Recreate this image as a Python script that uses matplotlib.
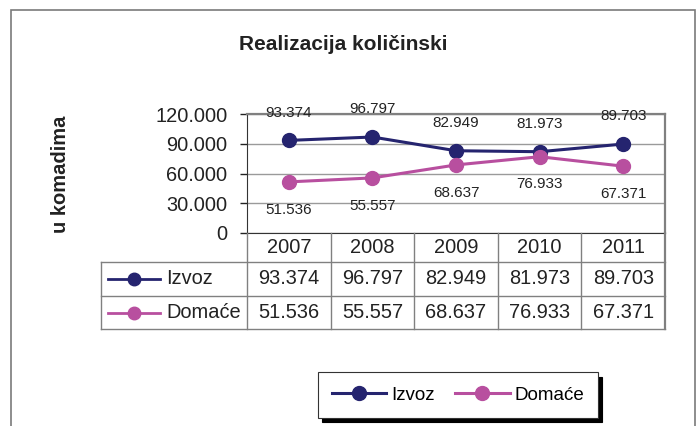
import matplotlib
matplotlib.use("Agg")
import matplotlib.pyplot as plt
from matplotlib.patches import Rectangle
from matplotlib.ticker import FuncFormatter

plt.rcParams['font.family'] = ['Liberation Sans', 'DejaVu Sans']

years = ["2007", "2008", "2009", "2010", "2011"]
izvoz = [93374, 96797, 82949, 81973, 89703]
domace = [51536, 55557, 68637, 76933, 67371]
series_names = ["Izvoz", "Domaće"]
colors = ["#25246f", "#b84f9f"]
yticks = [0, 30000, 60000, 90000, 120000]


def fmt(v):
    return f"{int(v):,}".replace(",", ".")


W, H = 699, 426
fig = plt.figure(figsize=(W / 100, H / 100), dpi=100)


def box(x0, y0, x1, y1):
    # pixel box (top-left origin) -> figure fraction rect
    return [x0 / W, 1 - y1 / H, (x1 - x0) / W, (y1 - y0) / H]


# outer chart frame
fig.patches.append(Rectangle((11 / W, -0.2), (695 - 11) / W, 1.2 - 10 / H,
                             transform=fig.transFigure, fill=False,
                             edgecolor="#7a7a7a", lw=1.2))

ax = fig.add_axes(box(247, 114, 665, 233))
x = list(range(len(years)))
ax.set_xlim(-0.5, len(years) - 0.5)
ax.set_ylim(0, 120000)
ax.set_yticks(yticks)
ax.yaxis.set_major_formatter(FuncFormatter(lambda v, p: fmt(v)))
ax.tick_params(axis='y', labelsize=14.4, length=5, width=1, pad=9, colors='#222222')
ax.set_xticks([])
ax.grid(axis='y', color='#9a9a9a', lw=1)
ax.spines['left'].set_color('#333333')
for s in ['top', 'right']:
    ax.spines[s].set_color('#808080')
    ax.spines[s].set_linewidth(1.6)
ax.spines['bottom'].set_color('#333333')

for vals, c, name, off in [(izvoz, colors[0], series_names[0], 20),
                           (domace, colors[1], series_names[1], -20)]:
    ax.plot(x, vals, color=c, lw=2.2, marker='o', ms=10, label=name, clip_on=False, zorder=3)
    for xi, v in zip(x, vals):
        ax.annotate(fmt(v), (xi, v), textcoords='offset points', xytext=(0, off),
                    ha='center', va='center', fontsize=11, color='#222222')

fig.text(343 / W, 1 - 45 / H, "Realizacija količinski", ha='center', va='center',
         fontsize=15, fontweight='bold', color='#222222')
fig.text(60 / W, 1 - 174 / H, "u komadima", ha='center', va='center', rotation=90,
         fontsize=14.5, fontweight='bold', color='#222222')

# data table under the plot
tab = fig.add_axes(box(247, 233, 665, 329))
tab.set_xlim(-0.5, len(years) - 0.5)
tab.set_ylim(96, 0)
tab.axis('off')
row_edges = [0, 29, 63, 96]
left = -0.5 - (247 - 101) / ((665 - 247) / len(years))
lc = '#808080'
for yb in row_edges[1:]:
    tab.plot([left, 4.5], [yb, yb], color=lc, lw=1, clip_on=False)
for xv in [i - 0.5 for i in range(len(years) + 1)]:
    tab.plot([xv, xv], [0, 96], color=lc, lw=1.6 if xv == 4.5 else 1, clip_on=False)
tab.plot([left, left], [29, 96], color=lc, lw=1, clip_on=False)

for i, yr in enumerate(years):
    tab.text(i, 14.5, yr, ha='center', va='center', fontsize=14.4, color='#222222')
for r, (vals, c, name) in enumerate([(izvoz, colors[0], series_names[0]),
                                     (domace, colors[1], series_names[1])]):
    yc = (row_edges[r + 1] + row_edges[r + 2]) / 2
    for i, v in enumerate(vals):
        tab.text(i, yc, fmt(v), ha='center', va='center', fontsize=14.4, color='#222222')
    kx0 = left + 7 / 83.6
    kx1 = left + 59 / 83.6
    tab.plot([kx0, kx1], [yc, yc], color=c, lw=2, clip_on=False)
    tab.plot([(kx0 + kx1) / 2], [yc], marker='o', ms=9, color=c, clip_on=False)
    tab.text(left + 65 / 83.6, yc, name, ha='left', va='center', fontsize=14.4, color='#222222')

leg = fig.legend(loc='center', bbox_to_anchor=(458 / W, 1 - 395 / H), ncol=2,
                 fontsize=13.5, frameon=True, fancybox=False, edgecolor='#333333',
                 shadow={'color': 'black', 'alpha': 1, 'ox': 3, 'oy': -3},
                 handlelength=2.9, handletextpad=0.25, columnspacing=1.1,
                 borderpad=0.75, borderaxespad=0)
leg.get_frame().set_linewidth(0.8)

fig.savefig("out.png", dpi=100)
